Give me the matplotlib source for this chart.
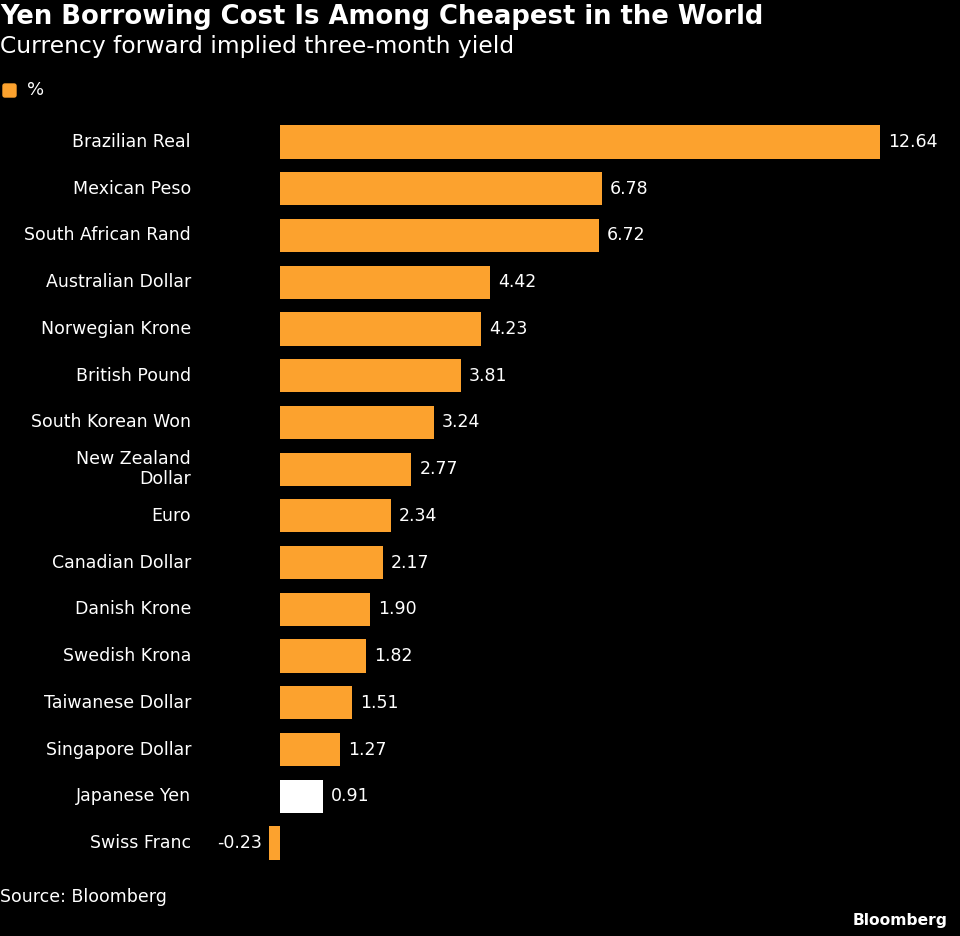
import matplotlib
matplotlib.use("Agg")
import matplotlib.pyplot as plt
from matplotlib.patches import FancyBboxPatch

currencies = ["Brazilian Real", "Mexican Peso", "South African Rand", "Australian Dollar",
              "Norwegian Krone", "British Pound", "South Korean Won", "New Zealand\nDollar",
              "Euro", "Canadian Dollar", "Danish Krone", "Swedish Krona",
              "Taiwanese Dollar", "Singapore Dollar", "Japanese Yen", "Swiss Franc"]
yields = [12.64, 6.78, 6.72, 4.42, 4.23, 3.81, 3.24, 2.77, 2.34, 2.17, 1.90, 1.82,
          1.51, 1.27, 0.91, -0.23]
highlight = "Japanese Yen"

ORANGE = "#FCA22E"
W, H = 960, 936
fig = plt.figure(figsize=(W / 100, H / 100), dpi=100, facecolor="black")

# axes in pixel coords: left 200, right 960, top 118.65, bottom 866.35
ax_l, ax_r, ax_t, ax_b = 200, 960, 118.65, 866.35
ax = fig.add_axes([ax_l / W, 1 - ax_b / H, (ax_r - ax_l) / W, (ax_b - ax_t) / H])
ax.set_facecolor("black")
ppu = 600 / 12.64
ax.set_xlim((ax_l - 280) / ppu, (ax_r - 280) / ppu)
ax.set_ylim(len(currencies) - 0.5, -0.5)

colors = ["white" if c == highlight else ORANGE for c in currencies]
ypos = list(range(len(currencies)))
ax.barh(ypos, yields, height=0.71, color=colors, edgecolor="none")

for y, v, name in zip(ypos, yields, currencies):
    if v >= 0:
        ax.text(v + 8 / ppu, y, f"{v:.2f}", color="white", fontsize=12.5,
                va="center", ha="left")
    else:
        ax.text(v - 7 / ppu, y, f"{v:.2f}", color="white", fontsize=12.5,
                va="center", ha="right")
    ax.text((191 - 280) / ppu, y, name, color="white", fontsize=12.5,
            va="center", ha="right", linespacing=1.15)

ax.axis("off")

fig.text(0 / W, 1 - 17 / H, "Yen Borrowing Cost Is Among Cheapest in the World",
         color="white", fontsize=18.6, fontweight="bold", va="center", ha="left")
fig.text(0 / W, 1 - 46 / H, "Currency forward implied three-month yield",
         color="white", fontsize=16.8, va="center", ha="left")

# legend
fig.patches.append(FancyBboxPatch((3 / W, 1 - 97 / H), 13 / W, 13 / H,
                                  boxstyle="round,pad=0,rounding_size=0.002",
                                  transform=fig.transFigure, color=ORANGE))
fig.text(27 / W, 1 - 90 / H, "%", color="white", fontsize=13, va="center", ha="left")

fig.text(0 / W, 1 - 897 / H, "Source: Bloomberg", color="white", fontsize=12.5,
         va="center", ha="left")
fig.text(948 / W, 1 - 920 / H, "Bloomberg", color="white", fontsize=11.2,
         fontweight="bold", va="center", ha="right")

fig.savefig("out.png", dpi=100, facecolor="black")
